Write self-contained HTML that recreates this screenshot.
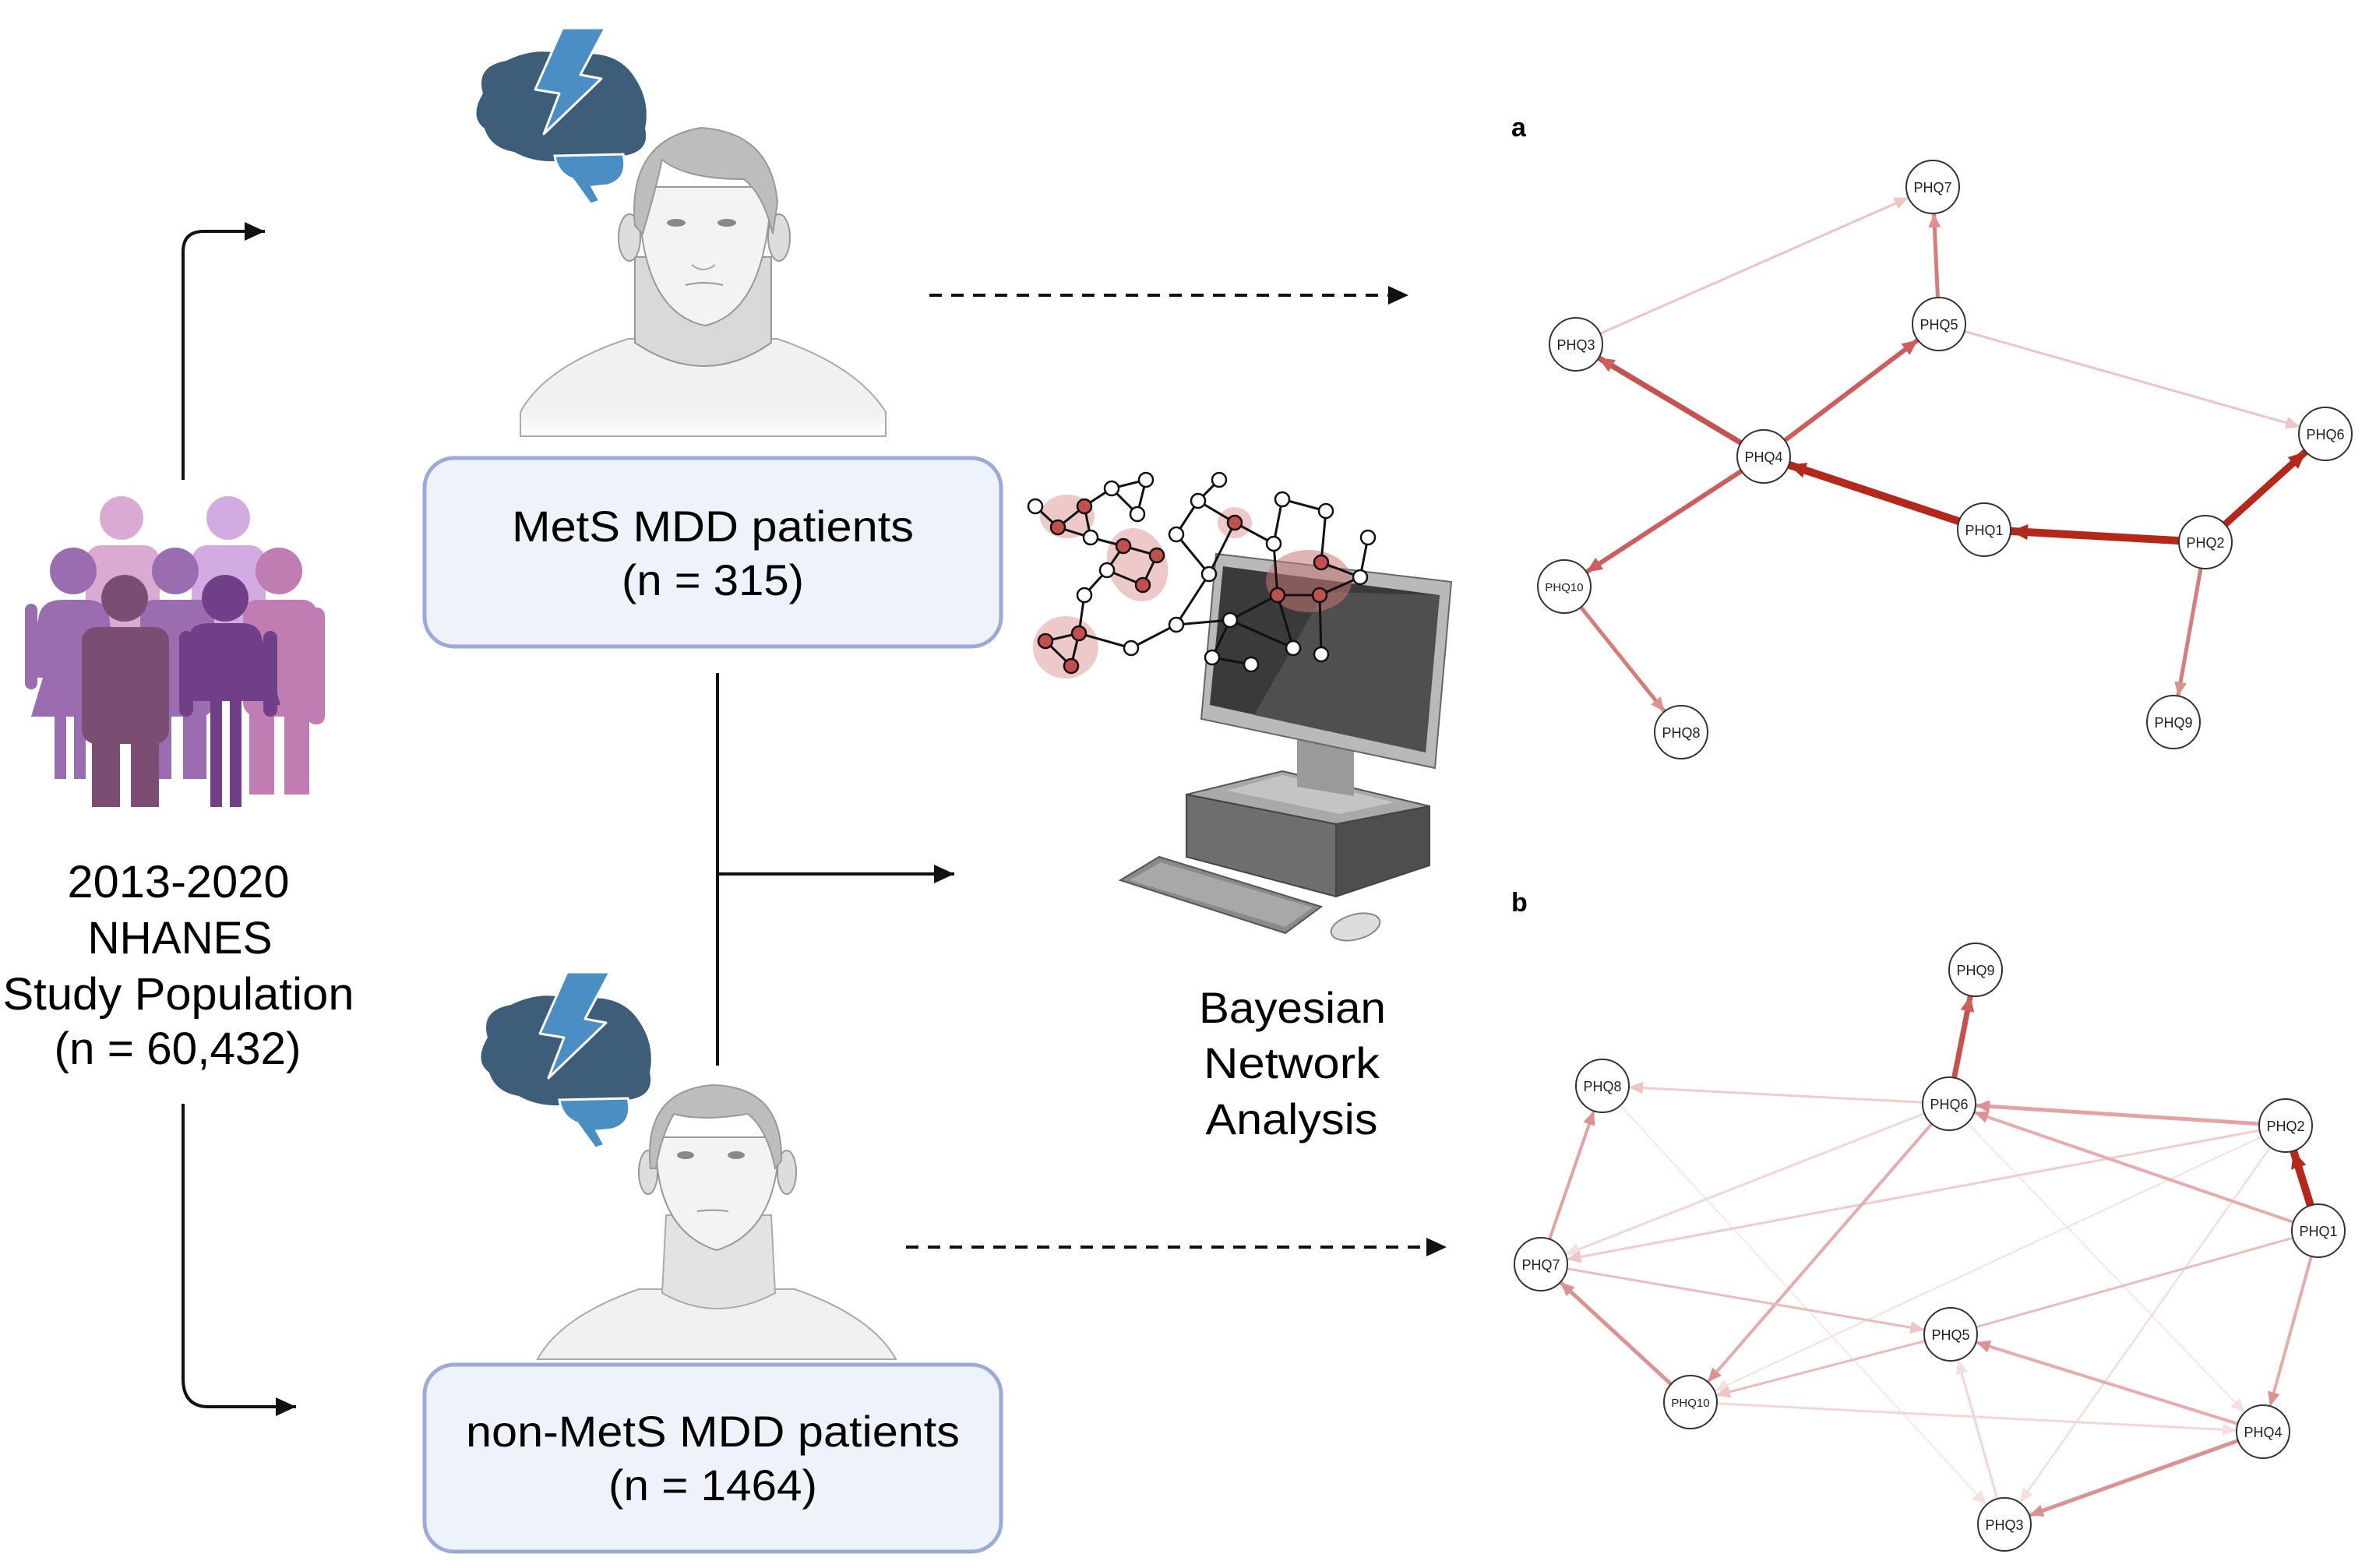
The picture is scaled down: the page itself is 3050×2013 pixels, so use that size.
<!DOCTYPE html>
<html><head><meta charset="utf-8"><style>
html,body{margin:0;padding:0;background:#fff;}
svg{display:block;}
text{font-family:"Liberation Sans",sans-serif;}
</style></head><body>
<svg width="3050" height="2013" viewBox="0 0 3050 2013" xmlns="http://www.w3.org/2000/svg">
<defs>
<marker id="ab" markerUnits="userSpaceOnUse" markerWidth="30" markerHeight="30" refX="26" refY="12" orient="auto"><path d="M0,0 L26,12 L0,24 z" fill="#111"/></marker>
<marker id="md" markerUnits="userSpaceOnUse" markerWidth="80" markerHeight="40" refX="56" refY="10" orient="auto" overflow="visible"><path d="M0,0 L22,10 L0,20 z" fill="#b3281b"/></marker>
<marker id="mm" markerUnits="userSpaceOnUse" markerWidth="80" markerHeight="40" refX="54" refY="9" orient="auto" overflow="visible"><path d="M0,0 L20,9 L0,18 z" fill="#cc5f5c"/></marker>
<marker id="ml" markerUnits="userSpaceOnUse" markerWidth="80" markerHeight="40" refX="52" refY="8" orient="auto" overflow="visible"><path d="M0,0 L18,8 L0,16 z" fill="#dc9292"/></marker>
<marker id="mf" markerUnits="userSpaceOnUse" markerWidth="80" markerHeight="40" refX="52" refY="8" orient="auto" overflow="visible"><path d="M0,0 L18,8 L0,16 z" fill="#eec4c4"/></marker>
<marker id="mx" markerUnits="userSpaceOnUse" markerWidth="80" markerHeight="40" refX="52" refY="8" orient="auto" overflow="visible"><path d="M0,0 L18,8 L0,16 z" fill="#f6dfdf"/></marker>
<linearGradient id="fade" x1="0" y1="0" x2="0" y2="1"><stop offset="0.75" stop-color="#f1f1f1"/><stop offset="1" stop-color="#fff"/></linearGradient>
</defs>

<!-- People icon -->
<g>
 <circle cx="156" cy="665" r="28" fill="#dbaad3"/><circle cx="293" cy="665" r="28" fill="#d2abe3"/>
 <rect x="110" y="700" width="95" height="150" rx="20" fill="#dbaad3"/><rect x="246" y="700" width="95" height="150" rx="20" fill="#d2abe3"/>
 <circle cx="94" cy="733" r="30" fill="#9a6cb0"/><circle cx="225" cy="733" r="30" fill="#9a6cb0"/><circle cx="358" cy="733" r="30" fill="#c07db2"/>
 <path d="M50,790 Q55,770 80,770 L110,770 Q135,770 140,790 L150,870 L135,870 L140,920 L110,920 L110,1000 L95,1000 L95,920 L85,920 L85,1000 L70,1000 L70,920 L40,920 L55,870 L35,870 Z" fill="#9a6cb0"/>
 <rect x="32" y="775" width="16" height="110" rx="8" fill="#9a6cb0"/>
 <rect x="180" y="770" width="95" height="150" rx="18" fill="#9a6cb0"/><rect x="190" y="900" width="30" height="100" fill="#9a6cb0"/><rect x="235" y="900" width="30" height="100" fill="#9a6cb0"/>
 <rect x="312" y="770" width="95" height="150" rx="18" fill="#c07db2"/><rect x="395" y="780" width="22" height="150" rx="10" fill="#c07db2"/><rect x="320" y="900" width="32" height="120" fill="#c07db2"/><rect x="365" y="900" width="32" height="120" fill="#c07db2"/>
 <circle cx="160" cy="768" r="30" fill="#7c4d73"/><circle cx="289" cy="768" r="30" fill="#703f88"/>
 <rect x="105" y="805" width="112" height="150" rx="18" fill="#7c4d73"/><rect x="118" y="930" width="36" height="106" fill="#7c4d73"/><rect x="168" y="930" width="36" height="106" fill="#7c4d73"/>
 <path d="M245,810 Q250,800 270,800 L310,800 Q330,800 335,815 L360,905 L345,905 L345,900 L310,900 L310,1036 L295,1036 L295,900 L285,900 L285,1036 L270,1036 L270,900 L230,900 Z" fill="#703f88"/>
 <rect x="230" y="810" width="18" height="110" rx="9" fill="#703f88"/><rect x="338" y="810" width="18" height="110" rx="9" fill="#703f88"/>
</g>
<text x="229" y="1152" font-size="58" text-anchor="middle" textLength="285" lengthAdjust="spacingAndGlyphs">2013-2020</text>
<text x="231" y="1224" font-size="58" text-anchor="middle" textLength="237" lengthAdjust="spacingAndGlyphs">NHANES</text>
<text x="229" y="1296" font-size="58" text-anchor="middle" textLength="451" lengthAdjust="spacingAndGlyphs">Study Population</text>
<text x="228" y="1366" font-size="58" text-anchor="middle" textLength="317" lengthAdjust="spacingAndGlyphs">(n = 60,432)</text>

<!-- left arrows -->
<path d="M235,616 L235,323 Q235,297 262,297 L340,297" fill="none" stroke="#111" stroke-width="4" marker-end="url(#ab)"/>
<path d="M235,1417 L235,1770 Q235,1806 268,1806 L380,1806" fill="none" stroke="#111" stroke-width="4" marker-end="url(#ab)"/>

<!-- Top man -->
<g>
 <path d="M668,529 Q700,470 806,435 L998,435 Q1100,470 1137,529 L1137,560 L668,560 Z" fill="url(#fade)" stroke="#aaa" stroke-width="2"/>
 <path d="M815,330 L815,440 Q905,500 990,440 L990,330 Z" fill="#d9d9d9" stroke="#999" stroke-width="2"/>
 <ellipse cx="808" cy="305" rx="14" ry="30" fill="#ddd" stroke="#999" stroke-width="2"/>
 <ellipse cx="1000" cy="305" rx="14" ry="30" fill="#ddd" stroke="#999" stroke-width="2"/>
 <path d="M820,240 Q820,400 905,418 Q985,400 990,240 Z" fill="#f3f3f3" stroke="#999" stroke-width="2"/>
 <path d="M815,290 Q805,180 900,164 Q990,170 998,260 L992,300 Q980,250 955,230 Q880,230 850,205 Q840,250 825,300 Z" fill="#bdbdbd" stroke="#999" stroke-width="2"/>
 <ellipse cx="868" cy="286" rx="12" ry="5" fill="#888"/><ellipse cx="933" cy="286" rx="12" ry="5" fill="#888"/>
 <path d="M888,340 Q903,352 918,340" fill="none" stroke="#aaa" stroke-width="2"/>
 <path d="M880,366 Q903,360 928,366" fill="none" stroke="#999" stroke-width="2"/>
</g>
<!-- top brain -->
<g>
 <path d="M620,120 Q610,85 650,78 Q690,58 730,72 Q790,60 815,100 Q835,130 828,165 Q835,195 800,200 Q770,212 730,205 Q690,212 660,195 Q630,190 622,165 Q602,150 620,120 Z" fill="#3e5d78"/>
 <path d="M712,200 L800,198 Q808,230 780,238 L760,240 L770,258 L758,262 L735,230 Q715,222 712,200 Z" fill="#4a8ec4" stroke="#fff" stroke-width="3"/>
 <path d="M722,36 L777,36 L745,96 L772,101 L698,172 L718,120 L687,115 Z" fill="#4a8ec4" stroke="#fff" stroke-width="3" stroke-linejoin="round"/>
</g>

<!-- MetS box -->
<rect x="545" y="588" width="740" height="242" rx="38" fill="#eef3fb" stroke="#9baad6" stroke-width="5"/>
<text x="915" y="695" font-size="56" text-anchor="middle" textLength="516" lengthAdjust="spacingAndGlyphs">MetS MDD patients</text>
<text x="915" y="764" font-size="56" text-anchor="middle" textLength="234" lengthAdjust="spacingAndGlyphs">(n = 315)</text>

<!-- center connector -->
<line x1="921" y1="864" x2="921" y2="1368" stroke="#111" stroke-width="4"/>
<line x1="921" y1="1122" x2="1225" y2="1122" stroke="#111" stroke-width="4" marker-end="url(#ab)"/>

<!-- dashed arrows -->
<line x1="1193" y1="379" x2="1782" y2="379" stroke="#111" stroke-width="4" stroke-dasharray="16,12"/>
<path d="M1782,367 L1808,379 L1782,391 Z" fill="#111"/>
<line x1="1163" y1="1601" x2="1831" y2="1601" stroke="#111" stroke-width="4" stroke-dasharray="16,12"/>
<path d="M1831,1589 L1857,1601 L1831,1613 Z" fill="#111"/>

<!-- Bottom man -->
<g>
 <path d="M690,1745 Q720,1690 820,1655 L1020,1655 Q1120,1690 1150,1745 Z" fill="#f1f1f1" stroke="#aaa" stroke-width="2"/>
 <path d="M855,1560 L850,1660 Q920,1700 995,1660 L990,1560 Z" fill="#e3e3e3" stroke="#aaa" stroke-width="2"/>
 <ellipse cx="832" cy="1505" rx="12" ry="28" fill="#ddd" stroke="#999" stroke-width="2"/>
 <ellipse cx="1010" cy="1505" rx="12" ry="28" fill="#ddd" stroke="#999" stroke-width="2"/>
 <path d="M842,1460 Q840,1580 920,1605 Q1000,1580 1000,1460 Z" fill="#f3f3f3" stroke="#999" stroke-width="2"/>
 <path d="M835,1500 Q825,1400 915,1393 Q1005,1395 1003,1490 L995,1500 Q985,1450 960,1430 Q900,1440 865,1430 Q848,1460 842,1500 Z" fill="#bdbdbd" stroke="#999" stroke-width="2"/>
 <ellipse cx="880" cy="1483" rx="11" ry="5" fill="#888"/><ellipse cx="945" cy="1483" rx="11" ry="5" fill="#888"/>
 <path d="M895,1555 Q915,1552 935,1555" fill="none" stroke="#999" stroke-width="2"/>
</g>
<g transform="translate(6,1212)">
 <path d="M620,120 Q610,85 650,78 Q690,58 730,72 Q790,60 815,100 Q835,130 828,165 Q835,195 800,200 Q770,212 730,205 Q690,212 660,195 Q630,190 622,165 Q602,150 620,120 Z" fill="#3e5d78"/>
 <path d="M712,200 L800,198 Q808,230 780,238 L760,240 L770,258 L758,262 L735,230 Q715,222 712,200 Z" fill="#4a8ec4" stroke="#fff" stroke-width="3"/>
 <path d="M722,36 L777,36 L745,96 L772,101 L698,172 L718,120 L687,115 Z" fill="#4a8ec4" stroke="#fff" stroke-width="3" stroke-linejoin="round"/>
</g>

<!-- non-MetS box -->
<rect x="545" y="1752" width="740" height="240" rx="38" fill="#eef3fb" stroke="#9baad6" stroke-width="5"/>
<text x="915" y="1857" font-size="56" text-anchor="middle" textLength="634" lengthAdjust="spacingAndGlyphs">non-MetS MDD patients</text>
<text x="915" y="1926" font-size="56" text-anchor="middle" textLength="268" lengthAdjust="spacingAndGlyphs">(n = 1464)</text>

<!-- Computer -->
<g>
 <path d="M1523,1020 L1646,990 L1835,1035 L1715,1058 Z" fill="#a9a9a9" stroke="#555" stroke-width="2"/>
 <path d="M1523,1020 L1715,1058 L1715,1151 L1523,1100 Z" fill="#6e6e6e" stroke="#444" stroke-width="2"/>
 <path d="M1715,1058 L1835,1035 L1835,1111 L1715,1151 Z" fill="#4e4e4e" stroke="#444" stroke-width="2"/>
 <path d="M1575,1015 L1646,995 L1790,1030 L1720,1045 Z" fill="#c4c4c4"/>
 <path d="M1665,950 L1738,960 L1738,1022 L1665,1010 Z" fill="#9a9a9a"/>
 <path d="M1561,711 L1863,747 L1842,986 L1542,923 Z" fill="#b9b9b9" stroke="#666" stroke-width="2"/>
 <path d="M1570,727 L1848,764 L1830,966 L1553,905 Z" fill="#3a3a3a"/>
 <path d="M1700,760 L1848,764 L1830,966 L1610,918 Z" fill="#4f4f4f"/>
 <path d="M1438,1130 L1488,1100 L1696,1164 L1650,1198 Z" fill="#8a8a8a" stroke="#555" stroke-width="2"/>
 <path d="M1450,1130 L1490,1107 L1685,1165 L1650,1190 Z" fill="#bdbdbd" opacity="0.6"/>
 <ellipse cx="1740" cy="1190" rx="32" ry="16" fill="#ddd" stroke="#888" stroke-width="2" transform="rotate(-15 1740 1190)"/>
</g>
<!-- network -->
<g>
 <ellipse cx="1370" cy="663" rx="35" ry="28" fill="#e9bcbc" opacity="0.8"/>
 <ellipse cx="1460" cy="725" rx="38" ry="48" fill="#e9bcbc" opacity="0.8" transform="rotate(-20 1460 725)"/>
 <ellipse cx="1368" cy="831" rx="42" ry="40" fill="#e9bcbc" opacity="0.8"/>
 <ellipse cx="1585" cy="671" rx="22" ry="20" fill="#e9bcbc" opacity="0.8"/>
 <ellipse cx="1680" cy="746" rx="55" ry="40" fill="#c87676" opacity="0.55"/>
 <g stroke="#111" stroke-width="3" fill="none">
 <path d="M1329,650 L1358,677 L1392,650 L1427,627 L1471,616 L1460,660 L1427,627 M1392,650 L1400,690 L1358,677 M1400,690 L1442,701 L1485,713 L1467,751 L1421,732 L1442,701 M1421,732 L1392,764 L1385,813 L1342,823 L1375,855 L1385,813 L1452,832 L1510,802 L1552,737 L1510,686 L1538,643 L1565,616 M1538,643 L1585,671 L1552,737 M1585,671 L1635,698 L1646,641 L1702,656 L1696,722 L1746,741 L1756,690 M1635,698 L1640,764 L1694,764 L1746,741 M1694,764 L1696,840 M1640,764 L1660,832 M1510,802 L1579,796 L1640,764 M1579,796 L1660,832 M1579,796 L1556,844 L1606,853"/>
 </g>
 <g stroke="#111" stroke-width="2.5">
 <circle cx="1329" cy="650" r="9" fill="#fff"/><circle cx="1427" cy="627" r="9" fill="#fff"/><circle cx="1471" cy="616" r="9" fill="#fff"/><circle cx="1460" cy="660" r="9" fill="#fff"/><circle cx="1400" cy="690" r="9" fill="#fff"/><circle cx="1421" cy="732" r="9" fill="#fff"/><circle cx="1392" cy="764" r="9" fill="#fff"/><circle cx="1452" cy="832" r="9" fill="#fff"/><circle cx="1510" cy="802" r="9" fill="#fff"/><circle cx="1552" cy="737" r="9" fill="#fff"/><circle cx="1510" cy="686" r="9" fill="#fff"/><circle cx="1538" cy="643" r="9" fill="#fff"/><circle cx="1565" cy="616" r="9" fill="#fff"/><circle cx="1635" cy="698" r="9" fill="#fff"/><circle cx="1646" cy="641" r="9" fill="#fff"/><circle cx="1702" cy="656" r="9" fill="#fff"/><circle cx="1756" cy="690" r="9" fill="#fff"/><circle cx="1746" cy="741" r="9" fill="#fff"/><circle cx="1579" cy="796" r="9" fill="#fff"/><circle cx="1660" cy="832" r="9" fill="#fff"/><circle cx="1696" cy="840" r="9" fill="#fff"/><circle cx="1556" cy="844" r="9" fill="#fff"/><circle cx="1606" cy="853" r="9" fill="#fff"/>
 <circle cx="1392" cy="650" r="9" fill="#c0504d"/><circle cx="1358" cy="677" r="9" fill="#c0504d"/><circle cx="1442" cy="701" r="9" fill="#c0504d"/><circle cx="1485" cy="713" r="9" fill="#c0504d"/><circle cx="1467" cy="751" r="9" fill="#c0504d"/><circle cx="1385" cy="813" r="9" fill="#c0504d"/><circle cx="1342" cy="823" r="9" fill="#c0504d"/><circle cx="1375" cy="855" r="9" fill="#c0504d"/><circle cx="1585" cy="671" r="9" fill="#c0504d"/><circle cx="1696" cy="722" r="9" fill="#c0504d"/><circle cx="1640" cy="764" r="9" fill="#c0504d"/><circle cx="1694" cy="764" r="9" fill="#c0504d"/>
 </g>
</g>
<text x="1659" y="1313" font-size="56" text-anchor="middle" textLength="240" lengthAdjust="spacingAndGlyphs">Bayesian</text>
<text x="1658" y="1384" font-size="56" text-anchor="middle" textLength="226" lengthAdjust="spacingAndGlyphs">Network</text>
<text x="1658" y="1456" font-size="56" text-anchor="middle" textLength="221" lengthAdjust="spacingAndGlyphs">Analysis</text>

<!-- Graph a -->
<text x="1940" y="175" font-size="34" font-weight="bold">a</text>
<g fill="none">
 <line x1="2023" y1="442" x2="2481" y2="240" stroke="#eec4c4" stroke-width="3" marker-end="url(#mf)"/>
 <line x1="2489" y1="416" x2="2481" y2="240" stroke="#d47d7b" stroke-width="5" marker-end="url(#ml)"/>
 <line x1="2264" y1="586" x2="2023" y2="442" stroke="#c4524f" stroke-width="7" marker-end="url(#mm)"/>
 <line x1="2264" y1="586" x2="2489" y2="416" stroke="#cc5f5c" stroke-width="6" marker-end="url(#mm)"/>
 <line x1="2489" y1="416" x2="2985" y2="557" stroke="#eec4c4" stroke-width="3" marker-end="url(#mf)"/>
 <line x1="2547" y1="680" x2="2264" y2="586" stroke="#b3281b" stroke-width="10" marker-end="url(#md)"/>
 <line x1="2831" y1="696" x2="2547" y2="680" stroke="#b3281b" stroke-width="10" marker-end="url(#md)"/>
 <line x1="2831" y1="696" x2="2985" y2="557" stroke="#b3281b" stroke-width="9" marker-end="url(#md)"/>
 <line x1="2264" y1="586" x2="2008" y2="753" stroke="#cc5f5c" stroke-width="6" marker-end="url(#mm)"/>
 <line x1="2008" y1="753" x2="2158" y2="940" stroke="#d47d7b" stroke-width="5" marker-end="url(#ml)"/>
 <line x1="2831" y1="696" x2="2790" y2="927" stroke="#d47d7b" stroke-width="5" marker-end="url(#ml)"/>
</g>
<g fill="#fff" stroke="#333" stroke-width="2">
 <circle cx="2481" cy="240" r="34"/><circle cx="2023" cy="442" r="34"/><circle cx="2489" cy="416" r="34"/><circle cx="2985" cy="557" r="34"/><circle cx="2264" cy="586" r="34"/><circle cx="2547" cy="680" r="34"/><circle cx="2831" cy="696" r="34"/><circle cx="2008" cy="753" r="34"/><circle cx="2158" cy="940" r="34"/><circle cx="2790" cy="927" r="34"/>
</g>
<g font-size="18" text-anchor="middle" fill="#222">
 <text x="2481" y="247">PHQ7</text><text x="2023" y="449">PHQ3</text><text x="2489" y="423">PHQ5</text><text x="2985" y="564">PHQ6</text><text x="2264" y="593">PHQ4</text><text x="2547" y="687">PHQ1</text><text x="2831" y="703">PHQ2</text><text x="2008" y="759" font-size="15">PHQ10</text><text x="2158" y="947">PHQ8</text><text x="2790" y="934">PHQ9</text>
</g>

<!-- Graph b -->
<text x="1940" y="1170" font-size="34" font-weight="bold">b</text>
<g fill="none">
 <line x1="2057" y1="1394" x2="2573" y2="1957" stroke="#f8e6e6" stroke-width="2" marker-end="url(#mx)"/>
 <line x1="2502" y1="1417" x2="2905" y2="1838" stroke="#f8e6e6" stroke-width="2" marker-end="url(#mx)"/>
 <line x1="2502" y1="1417" x2="2057" y2="1394" stroke="#f0cccc" stroke-width="3" marker-end="url(#mf)"/>
 <line x1="2502" y1="1417" x2="1978" y2="1623" stroke="#f3d6d6" stroke-width="3" marker-end="url(#mx)"/>
 <line x1="2934" y1="1445" x2="1978" y2="1623" stroke="#f0cccc" stroke-width="3" marker-end="url(#mf)"/>
 <line x1="2934" y1="1445" x2="2170" y2="1800" stroke="#f6dfdf" stroke-width="2" marker-end="url(#mx)"/>
 <line x1="2934" y1="1445" x2="2573" y2="1957" stroke="#f3d6d6" stroke-width="2" marker-end="url(#mx)"/>
 <line x1="2934" y1="1445" x2="2502" y2="1417" stroke="#e3a3a3" stroke-width="5" marker-end="url(#ml)"/>
 <line x1="2976" y1="1580" x2="2502" y2="1417" stroke="#e6acac" stroke-width="4" marker-end="url(#ml)"/>
 <line x1="2502" y1="1417" x2="2170" y2="1800" stroke="#e6acac" stroke-width="4" marker-end="url(#ml)"/>
 <line x1="2502" y1="1417" x2="2536" y2="1245" stroke="#c4524f" stroke-width="7" marker-end="url(#mm)"/>
 <line x1="2976" y1="1580" x2="2934" y2="1445" stroke="#b3281b" stroke-width="10" marker-end="url(#md)"/>
 <line x1="2976" y1="1580" x2="2504" y2="1713" stroke="#ecbcbc" stroke-width="3"/>
 <line x1="1978" y1="1623" x2="2504" y2="1713" stroke="#ecbcbc" stroke-width="3" marker-end="url(#mf)"/>
 <line x1="2504" y1="1713" x2="2170" y2="1800" stroke="#ecbcbc" stroke-width="3" marker-end="url(#mf)"/>
 <line x1="2170" y1="1800" x2="1978" y2="1623" stroke="#dc9292" stroke-width="5" marker-end="url(#ml)"/>
 <line x1="1978" y1="1623" x2="2057" y2="1394" stroke="#e3a3a3" stroke-width="4" marker-end="url(#ml)"/>
 <line x1="2976" y1="1580" x2="2905" y2="1838" stroke="#e6acac" stroke-width="4" marker-end="url(#ml)"/>
 <line x1="2905" y1="1838" x2="2504" y2="1713" stroke="#e6acac" stroke-width="4" marker-end="url(#ml)"/>
 <line x1="2170" y1="1800" x2="2905" y2="1838" stroke="#f3d6d6" stroke-width="3" marker-end="url(#mx)"/>
 <line x1="2573" y1="1957" x2="2504" y2="1713" stroke="#f3d6d6" stroke-width="3" marker-end="url(#mx)"/>
 <line x1="2905" y1="1838" x2="2573" y2="1957" stroke="#dc9292" stroke-width="5" marker-end="url(#ml)"/>
</g>
<g fill="#fff" stroke="#333" stroke-width="2">
 <circle cx="2536" cy="1245" r="34"/><circle cx="2057" cy="1394" r="34"/><circle cx="2502" cy="1417" r="34"/><circle cx="2934" cy="1445" r="34"/><circle cx="2976" cy="1580" r="34"/><circle cx="1978" cy="1623" r="34"/><circle cx="2504" cy="1713" r="34"/><circle cx="2170" cy="1800" r="34"/><circle cx="2905" cy="1838" r="34"/><circle cx="2573" cy="1957" r="34"/>
</g>
<g font-size="18" text-anchor="middle" fill="#222">
 <text x="2536" y="1252">PHQ9</text><text x="2057" y="1401">PHQ8</text><text x="2502" y="1424">PHQ6</text><text x="2934" y="1452">PHQ2</text><text x="2976" y="1587">PHQ1</text><text x="1978" y="1630">PHQ7</text><text x="2504" y="1720">PHQ5</text><text x="2170" y="1806" font-size="15">PHQ10</text><text x="2905" y="1845">PHQ4</text><text x="2573" y="1964">PHQ3</text>
</g>
</svg>
</body></html>
